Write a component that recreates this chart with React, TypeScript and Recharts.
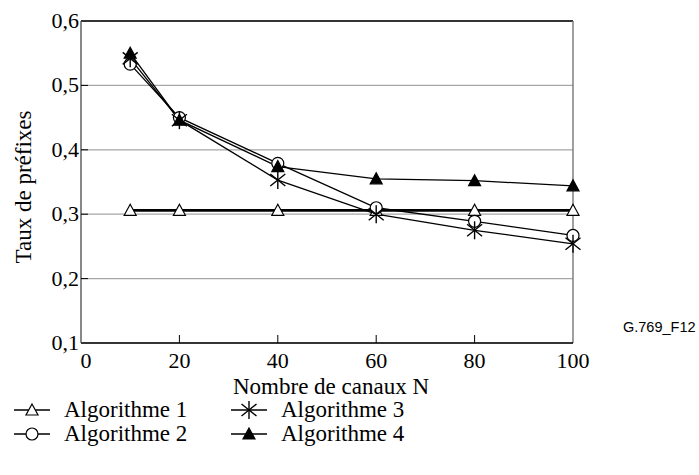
import React from 'react';
import {
  CartesianGrid,
  Legend,
  Line,
  LineChart,
  ReferenceLine,
  XAxis,
  YAxis
} from 'recharts';

const channels = [10, 20, 40, 60, 80, 100];
const algo1 = [0.306, 0.306, 0.306, 0.306, 0.306, 0.306];
const algo2 = [0.533, 0.45, 0.379, 0.31, 0.289, 0.267];
const algo3 = [0.542, 0.446, 0.353, 0.3, 0.275, 0.254];
const algo4 = [0.55, 0.446, 0.374, 0.355, 0.352, 0.344];

const xTicks = [0, 20, 40, 60, 80, 100];
const yTicks = [0.1, 0.2, 0.3, 0.4, 0.5, 0.6];
const seriesNames = ['Algorithme 1', 'Algorithme 2', 'Algorithme 3', 'Algorithme 4'];

const data = channels.map((n, i) => ({
  n,
  a1: algo1[i],
  a2: algo2[i],
  a3: algo3[i],
  a4: algo4[i]
}));

const SERIF = '"Liberation Serif", "Times New Roman", serif';

const OpenTriangle = ({ cx, cy, fill = '#fff' }: any) => (
  <path
    d={`M${cx},${cy - 6} L${cx + 6},${cy + 5} L${cx - 6},${cy + 5} Z`}
    fill={fill}
    stroke="#000"
    strokeWidth={1.2}
  />
);

const Circle = ({ cx, cy }: any) => (
  <circle cx={cx} cy={cy} r={6} fill="#fff" stroke="#000" strokeWidth={1.2} />
);

const Star = ({ cx, cy }: any) => (
  <g stroke="#000" strokeWidth={1.4}>
    <line x1={cx} x2={cx} y1={cy - 9} y2={cy + 9} />
    <line x1={cx - 7.5} x2={cx + 7.5} y1={cy - 6} y2={cy + 6} />
    <line x1={cx - 7.5} x2={cx + 7.5} y1={cy + 6} y2={cy - 6} />
  </g>
);

const markers = [
  (p: any) => <OpenTriangle {...p} />,
  (p: any) => <Circle {...p} />,
  (p: any) => <Star {...p} />,
  (p: any) => <OpenTriangle {...p} fill="#000" />
];

const dotFor = (idx: number) => (props: any) => {
  const { cx, cy, index } = props;
  if (cx == null || cy == null) return <g key={index} />;
  return <g key={`d${idx}-${index}`}>{markers[idx]({ cx, cy })}</g>;
};

const XTick = (props: any) => {
  const { x, y, payload } = props;
  const v = payload.value;
  return (
    <g>
      {v !== 0 && v !== 100 && (
        <line x1={x} x2={x} y1={y} y2={y - 8} stroke="#000" />
      )}
      <text
        x={v === 0 ? x + 5 : x}
        y={y + 25}
        textAnchor="middle"
        fontSize={22}
        fontFamily={SERIF}
        fill="#000"
      >
        {v}
      </text>
    </g>
  );
};

const YTick = (props: any) => {
  const { x, y, payload } = props;
  const v = payload.value;
  return (
    <g>
      {v !== 0.1 && v !== 0.6 && (
        <line x1={x} x2={x + 7} y1={y} y2={y} stroke="#000" />
      )}
      <text
        x={x - 2}
        y={y + 7}
        textAnchor="end"
        fontSize={22}
        fontFamily={SERIF}
        fill="#000"
      >
        {v.toFixed(1).replace('.', ',')}
      </text>
    </g>
  );
};

const LegendIcon = ({ idx }: { idx: number }) => (
  <svg width={38} height={20} style={{ display: 'block' }}>
    <line x1={1} x2={37} y1={10} y2={10} stroke="#000" strokeWidth={1.6} />
    {markers[idx]({ cx: 19, cy: 10 })}
  </svg>
);

const LegendBox = () => {
  const order = [0, 2, 1, 3];
  return (
    <div
      style={{
        display: 'grid',
        gridTemplateColumns: '217px 240px',
        rowGap: 1,
        fontFamily: SERIF,
        fontSize: 23,
        lineHeight: '23px'
      }}
    >
      {order.map((i) => (
        <div key={i} style={{ display: 'flex', alignItems: 'center' }}>
          <LegendIcon idx={i} />
          <span style={{ marginLeft: 13 }}>{seriesNames[i]}</span>
        </div>
      ))}
    </div>
  );
};

const App: React.FC = () => {
  return (
    <div style={{ position: 'relative', width: 699, height: 475 }}>
      <style>{'body{margin:0;background:#fff;}'}</style>
      <LineChart
        width={699}
        height={475}
        data={data}
        margin={{ top: 21, right: 126, bottom: 82, left: 0 }}
      >
        <CartesianGrid vertical={false} stroke="#a6a6a6" strokeWidth={1.2} />
        <XAxis
          dataKey="n"
          type="number"
          domain={[0, 100]}
          ticks={xTicks}
          height={50}
          stroke="#000"
          strokeWidth={1.4}
          tickLine={false}
          tickSize={0}
          tickMargin={0}
          tick={<XTick />}
          label={{
            content: (p: any) => {
              const vb = p.viewBox;
              return (
                <text
                  x={vb.x + vb.width / 2 + 4}
                  y={vb.y + 51}
                  textAnchor="middle"
                  fontSize={23}
                  fontFamily={SERIF}
                  fill="#000"
                >
                  Nombre de canaux N
                </text>
              );
            }
          }}
        />
        <YAxis
          type="number"
          domain={[0.1, 0.6]}
          ticks={yTicks}
          width={81}
          stroke="#555"
          strokeWidth={1.4}
          tickLine={false}
          tickSize={0}
          tickMargin={0}
          tick={<YTick />}
          label={{
            content: (p: any) => {
              const vb = p.viewBox;
              const cx = vb.x + 31;
              const cy = vb.y + vb.height / 2 + 5;
              return (
                <text
                  x={cx}
                  y={cy}
                  transform={`rotate(-90, ${cx}, ${cy})`}
                  textAnchor="middle"
                  fontSize={23}
                  fontFamily={SERIF}
                  fill="#000"
                >
                  Taux de préfixes
                </text>
              );
            }
          }}
        />
        <ReferenceLine y={0.6} stroke="#000" strokeWidth={1.4} />
        <ReferenceLine x={100} stroke="#777" strokeWidth={1.4} />
        <Line
          dataKey="a1"
          stroke="#000"
          strokeWidth={2.6}
          dot={dotFor(0)}
          activeDot={false}
          isAnimationActive={false}
        />
        <Line
          dataKey="a2"
          stroke="#000"
          strokeWidth={1.3}
          dot={dotFor(1)}
          activeDot={false}
          isAnimationActive={false}
        />
        <Line
          dataKey="a3"
          stroke="#000"
          strokeWidth={1.3}
          dot={dotFor(2)}
          activeDot={false}
          isAnimationActive={false}
        />
        <Line
          dataKey="a4"
          stroke="#000"
          strokeWidth={1.3}
          dot={dotFor(3)}
          activeDot={false}
          isAnimationActive={false}
        />
        <Legend
          layout="horizontal"
          verticalAlign="middle"
          align="center"
          content={() => <LegendBox />}
          wrapperStyle={{ top: 398, left: 13, width: 480 }}
        />
      </LineChart>
      <div
        style={{
          position: 'absolute',
          left: 623,
          top: 319,
          fontFamily: '"Liberation Sans", Arial, sans-serif',
          fontSize: 14.5,
          color: '#000'
        }}
      >
        G.769_F12
      </div>
    </div>
  );
};

export default App;
